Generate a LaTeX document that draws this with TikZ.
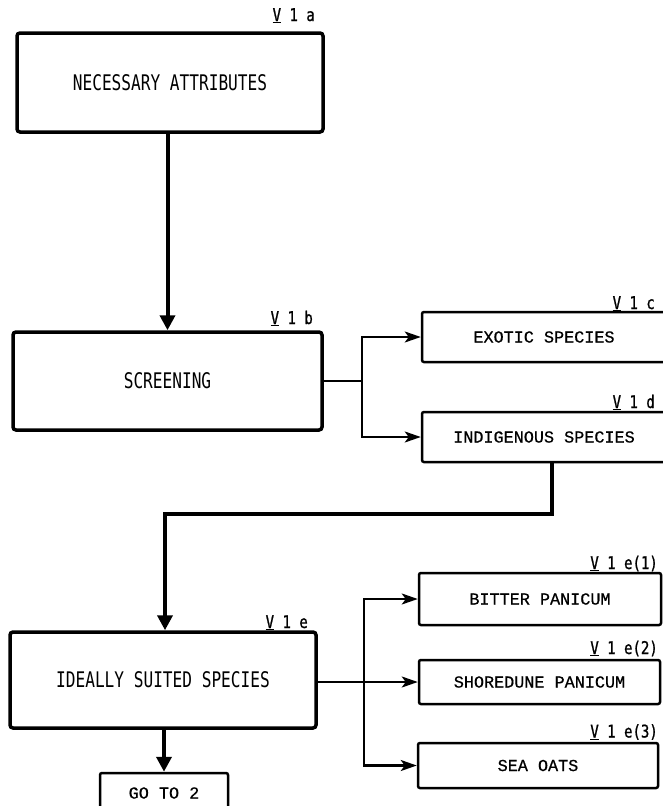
\documentclass[tikz,border=0pt]{standalone}
\usepackage{fontspec}
\usetikzlibrary{arrows.meta,calc}
\newfontfamily\bigfont[FakeStretch=0.75]{DejaVu Sans Mono}
\newfontfamily\lblfont[FakeStretch=0.8,FakeBold=1]{DejaVu Sans Mono}
\newfontfamily\smallfont[FakeBold=0.6]{Liberation Mono}
\begin{document}
\begin{tikzpicture}[x=1pt,y=-1pt,
  bigbox/.style={draw,line width=3.5pt,rounded corners=3pt,inner sep=0pt,font=\bigfont\fontsize{21.5}{24}\selectfont},
  smallbox/.style={draw,line width=2.5pt,rounded corners=2pt,inner sep=0pt,font=\smallfont\fontsize{16.8}{20}\selectfont},
  lbl/.style={anchor=base east,inner sep=0pt,font=\lblfont\fontsize{17.5}{20}\selectfont},
  mainline/.style={line width=4pt,-{Triangle[length=15pt,width=15pt]}},
  branch/.style={line width=2.3pt},
  brancharrow/.style={line width=2.3pt,-{Stealth[length=16pt,width=11pt,inset=4pt]}}
]
\useasboundingbox[fill=white] (0,0) rectangle (662,806);

% boxes
\node[bigbox,minimum width=306pt,minimum height=99pt] (A) at (170,82.5) {NECESSARY ATTRIBUTES};
\node[bigbox,minimum width=309pt,minimum height=98pt] (B) at (167.5,381) {SCREENING};
\node[smallbox,minimum width=244pt,minimum height=50pt] (C) at (544,337) {EXOTIC SPECIES};
\node[smallbox,minimum width=244pt,minimum height=50pt] (D) at (544,437) {INDIGENOUS SPECIES};
\node[bigbox,minimum width=306pt,minimum height=96pt] (E) at (163,680) {IDEALLY SUITED SPECIES};
\node[smallbox,minimum width=242pt,minimum height=52pt] (F) at (540,599) {BITTER PANICUM};
\node[smallbox,minimum width=241pt,minimum height=44pt] (G) at (539.5,682) {SHOREDUNE PANICUM};
\node[smallbox,minimum width=240pt,minimum height=45pt] (H) at (538,765.5) {SEA OATS};
\node[smallbox,minimum width=128pt,minimum height=40pt] (GO) at (164,793) {GO TO 2};

% labels
\node[lbl] (la) at (315,21) {\underline{V} 1 a};
\node[lbl] (lb) at (313,324) {\underline{V} 1 b};
\node[lbl] (lc) at (655,309) {\underline{V} 1 c};
\node[lbl] (ld) at (655,408) {\underline{V} 1 d};
\node[lbl] (le) at (308,628) {\underline{V} 1 e};
\node[lbl] (le1) at (658,569) {\underline{V} 1 e(1)};
\node[lbl] (le2) at (658,654) {\underline{V} 1 e(2)};
\node[lbl] (le3) at (658,737.5) {\underline{V} 1 e(3)};

% connectors
\draw[mainline] (A.south -| B.north) -- (B.north);

\coordinate (J1) at (362,381);
\draw[branch] (B.east) -- (J1);
\draw[brancharrow] (J1) |- (C.west);
\draw[brancharrow] (J1) |- (D.west);

\coordinate (d1) at (552,514);
\coordinate (d2) at (165,514);
\draw[mainline] (D.south -| d1) -- (d1) -- (d2) -- (d2 |- E.north);

\coordinate (J2) at (364,682);
\draw[brancharrow] (E.east |- J2) -- (G.west);
\draw[brancharrow] (J2) |- (F.west);
\draw[brancharrow] (J2) |- (H.west);

\draw[mainline] (E.south -| GO.north) -- (GO.north);
\end{tikzpicture}
\end{document}
